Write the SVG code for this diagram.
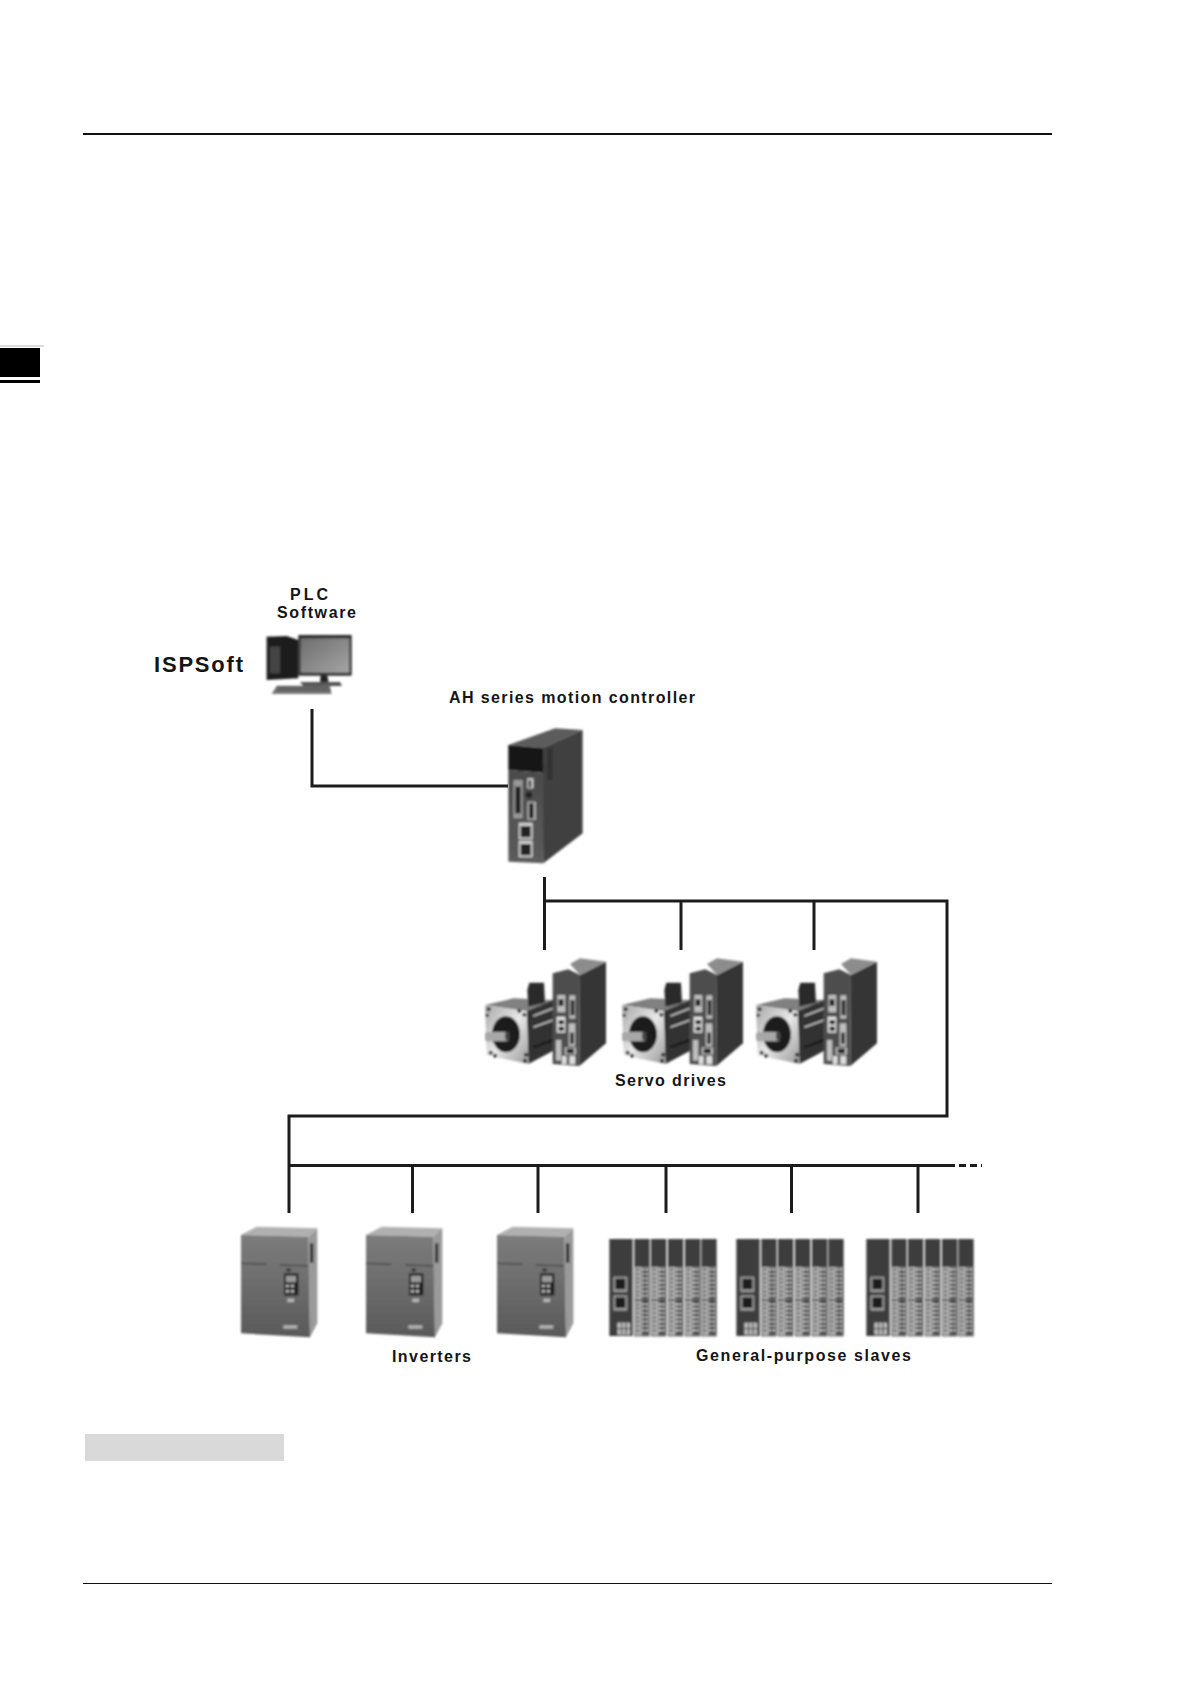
<svg xmlns="http://www.w3.org/2000/svg" xmlns:xlink="http://www.w3.org/1999/xlink" width="1191" height="1684" viewBox="0 0 1191 1684">
<style>
.lb{font-family:"Liberation Sans",Arial,sans-serif;font-weight:700;font-size:16px;fill:#151515}
.w{fill:none;stroke:#1c1c1c;stroke-width:3}
.rule{stroke:#111;fill:none}
</style>
<defs>
<filter id="soft" x="-5%" y="-5%" width="110%" height="110%"><feGaussianBlur stdDeviation="2.4"/></filter>
<linearGradient id="inv" x1="0" y1="0" x2="0" y2="1"><stop offset="0" stop-color="#7c7c7c"/><stop offset=".5" stop-color="#6c6c6c"/><stop offset="1" stop-color="#595959"/></linearGradient>
<linearGradient id="silver" x1="0" y1="0" x2="1" y2="1"><stop offset="0" stop-color="#a8a8a8"/><stop offset=".5" stop-color="#e8e8e8"/><stop offset="1" stop-color="#999"/></linearGradient>
<linearGradient id="ctl" x1="0" y1="0" x2="0" y2="1"><stop offset="0" stop-color="#4a4a4a"/><stop offset="1" stop-color="#5c5c5c"/></linearGradient>
<linearGradient id="scr" x1="0" y1="0" x2="1" y2="1"><stop offset="0" stop-color="#6e6e6e"/><stop offset="1" stop-color="#a4a4a4"/></linearGradient>

<g id="servo" filter="url(#soft)">
<path d="M170 210L250 178V332L175 372Z" fill="#333"/>
<path d="M190 228L250 205M190 262L250 240" stroke="#c4c4c4" stroke-width="5" fill="none"/>
<path d="M190 322L250 300" stroke="#111" stroke-width="6" fill="none"/>
<path d="M45 195L130 175L250 180L170 214Z" fill="#808080"/>
<path d="M172 150L178 128H222L225 188L175 200Z" fill="#2c2c2c"/>
<path d="M45 196L170 214L176 372L50 346Z" fill="url(#silver)"/>
<ellipse cx="108" cy="283" rx="42" ry="54" fill="#1a1a1a"/>
<rect x="45" y="276" width="72" height="28" rx="8" fill="#a8a8a8"/>
<ellipse cx="112" cy="288" rx="7" ry="14" fill="#444"/>
<g fill="#222"><circle cx="56" cy="208" r="6"/><circle cx="148" cy="213" r="6"/><circle cx="52" cy="226" r="5"/><circle cx="163" cy="224" r="6"/><circle cx="62" cy="338" r="6"/><circle cx="75" cy="347" r="6"/><circle cx="168" cy="344" r="6"/><circle cx="165" cy="362" r="6"/></g>
<path d="M330 105L408 65V310L328 378Z" fill="#343434"/>
<path d="M300 72L330 55L408 65L330 105Z" fill="#8c8c8c"/>
<path d="M248 100L295 88L330 105L328 378L248 372Z" fill="#4e4e4e"/>
<g fill="#bdbdbd"><rect x="262" y="165" width="24" height="52"/><rect x="298" y="166" width="18" height="70"/><rect x="260" y="230" width="26" height="48" fill="#e2e2e2"/><rect x="258" y="300" width="16" height="62"/><rect x="296" y="250" width="20" height="68"/><rect x="284" y="322" width="34" height="22"/><rect x="276" y="348" width="14" height="24" fill="#ddd"/><rect x="298" y="348" width="18" height="24" fill="#ddd"/></g>
<g fill="#1c1c1c"><rect x="266" y="240" width="16" height="13"/><rect x="266" y="260" width="16" height="13"/><rect x="266" y="178" width="14" height="20"/><rect x="302" y="180" width="11" height="46"/><rect x="301" y="278" width="10" height="34"/><rect x="290" y="326" width="22" height="14"/></g>
</g>

<g id="inverter" filter="url(#soft)">
<path d="M33 75L80 50L262 55L235 80Z" fill="#b0b0b0"/>
<path d="M235 80L262 55V340L240 382Z" fill="#9a9a9a"/>
<path d="M33 75L235 80L240 382L33 370Z" fill="url(#inv)"/>
<path d="M33 160L110 163M150 165L235 168" stroke="#333" stroke-width="3" fill="none"/>
<rect x="162" y="190" width="43" height="66" fill="#1b1b1b"/>
<rect x="168" y="197" width="30" height="20" fill="#999"/>
<g fill="#bbb"><rect x="167" y="224" width="10" height="8"/><rect x="182" y="224" width="10" height="8"/><rect x="167" y="240" width="10" height="8"/><rect x="182" y="240" width="10" height="8"/></g>
<rect x="170" y="176" width="12" height="8" fill="#222"/>
<rect x="172" y="266" width="20" height="10" fill="#ddd" opacity=".7"/>
<rect x="160" y="346" width="42" height="10" fill="#ccc" opacity=".8"/>
<rect x="240" y="100" width="10" height="58" fill="#333"/>
</g>

<g id="module">
<rect x="0" y="0" width="46" height="292" fill="#3e3e3e"/>
<rect x="3" y="84" width="40" height="205" fill="#b8b8b8"/>
<rect x="22" y="86" width="20" height="201" fill="#1c1c1c"/>
<path d="M27 88V284M37 88V284" stroke="#ddd" stroke-width="6" stroke-dasharray="8 5" fill="none"/>
<path d="M11 88V284" stroke="#666" stroke-width="8" stroke-dasharray="8 5" fill="none"/>
<rect x="3" y="182" width="40" height="4" fill="#444"/>
</g>
<g id="slave" filter="url(#soft)">
<rect x="28" y="57" width="70" height="291" fill="#3c3c3c"/>
<rect x="40" y="170" width="42" height="46" fill="#999"/><rect x="46" y="176" width="30" height="32" fill="#1e1e1e"/>
<rect x="40" y="226" width="42" height="46" fill="#999"/><rect x="46" y="232" width="30" height="32" fill="#1e1e1e"/>
<rect x="52" y="308" width="38" height="36" fill="#bbb"/>
<path d="M65 310V342M78 310V342M52 326H90" stroke="#333" stroke-width="3" fill="none"/>
<use xlink:href="#module" href="#module" x="103" y="57"/>
<use xlink:href="#module" href="#module" x="153" y="57"/>
<use xlink:href="#module" href="#module" x="204" y="57"/>
<use xlink:href="#module" href="#module" x="255" y="57"/>
<use xlink:href="#module" href="#module" x="304" y="57"/>
</g>
</defs>

<rect width="1191" height="1684" fill="#fff"/>

<g id="page">
<path class="rule" stroke-width="2" d="M83 134H1052"/>
<path class="rule" stroke-width="1" d="M83 1583.500H1052"/>
<rect x="0" y="348" width="40" height="29" fill="#000"/>
<rect x="0" y="380" width="40" height="3" fill="#000"/>
<rect x="0" y="345" width="44" height="2" fill="#ddd"/>
<rect x="85" y="1434" width="199" height="27" fill="#d9d9d9"/>
</g>

<g id="connectors">
<path class="w" d="M312 709V786H508"/>
<path class="w" d="M544.500 877V950"/>
<path class="w" d="M544.500 901H947V1116H289V1213"/>
<path class="w" d="M681 901V950M814 901V950"/>
<path class="w" d="M289 1165.500H955"/>
<path class="w" d="M959 1165.500H966M970 1165.500H977M981 1165.500H982"/>
<path class="w" d="M412.500 1165V1213M538 1165V1213M666 1165V1213M791.500 1165V1213M918 1165V1213"/>
</g>

<g id="pc">
<g filter="url(#soft)" transform="translate(130 570) scale(.3333)">
<path d="M410 200L470 198L505 210V325L410 330Z" fill="#1e1e1e"/>
<rect x="420" y="230" width="30" height="80" fill="#444"/>
<rect x="505" y="195" width="160" height="122" fill="#2a2a2a"/>
<path d="M512 205H658V308H512Z" fill="url(#scr)"/>
<path d="M572 316H592L596 338H570Z" fill="#222"/>
<path d="M510 336H630L636 348H520Z" fill="#555"/>
<path d="M440 347H600L605 372H425Z" fill="#777"/>
<path d="M445 352H595M440 360H600" stroke="#222" stroke-width="3" stroke-dasharray="5 2"/>
</g>
<text class="lb" x="290" y="600" textLength="38" lengthAdjust="spacing">PLC</text>
<text class="lb" x="277" y="618" textLength="79" lengthAdjust="spacing">Software</text>
<text class="lb" x="154" y="672" textLength="89" lengthAdjust="spacing" style="font-size:22px">ISPSoft</text>
</g>

<g id="controller">
<g filter="url(#soft)" transform="translate(430 680) scale(.3333)">
<path d="M235 195L375 145L458 150L335 205Z" fill="#5c5c5c"/>
<path d="M335 205L458 150V460L340 550Z" fill="#3f3f3f"/>
<path d="M235 195L338 205L340 278L235 270Z" fill="#161616"/>
<path d="M235 270L340 278V550L235 545Z" fill="url(#ctl)"/>
<rect x="352" y="205" width="16" height="95" fill="#333"/>
<rect x="250" y="300" width="28" height="115" fill="#999"/>
<rect x="256" y="320" width="16" height="80" fill="#222"/>
<rect x="292" y="295" width="18" height="30" fill="#ddd"/>
<rect x="296" y="300" width="8" height="22" fill="#222"/>
<circle cx="297" cy="345" r="10" fill="#222"/>
<rect x="292" y="365" width="26" height="55" fill="#aaa"/>
<rect x="298" y="370" width="12" height="45" fill="#111"/>
<rect x="266" y="428" width="42" height="50" fill="#ccc"/><rect x="272" y="438" width="30" height="34" fill="#222"/>
<rect x="266" y="482" width="42" height="50" fill="#ccc"/><rect x="272" y="492" width="30" height="34" fill="#222"/>
</g>
<text class="lb" x="449" y="703" textLength="246" lengthAdjust="spacing">AH series motion controller</text>
</g>

<g id="servo-drives">
<use xlink:href="#servo" href="#servo" transform="translate(470 940) scale(.3333)"/>
<use xlink:href="#servo" href="#servo" transform="translate(607 940) scale(.3333)"/>
<use xlink:href="#servo" href="#servo" transform="translate(741 940) scale(.3333)"/>
<text class="lb" x="615" y="1086" textLength="111" lengthAdjust="spacing">Servo drives</text>
</g>

<g id="inverters">
<use xlink:href="#inverter" href="#inverter" transform="translate(230 1210) scale(.3333)"/>
<use xlink:href="#inverter" href="#inverter" transform="translate(355 1210) scale(.3333)"/>
<use xlink:href="#inverter" href="#inverter" transform="translate(486 1210) scale(.3333)"/>
<text class="lb" x="392" y="1362" textLength="79" lengthAdjust="spacing">Inverters</text>
</g>

<g id="slaves">
<use xlink:href="#slave" href="#slave" transform="translate(600 1220) scale(.3333)"/>
<use xlink:href="#slave" href="#slave" transform="translate(727 1220) scale(.3333)"/>
<use xlink:href="#slave" href="#slave" transform="translate(857 1220) scale(.3333)"/>
<text class="lb" x="696" y="1361" textLength="215" lengthAdjust="spacing">General-purpose slaves</text>
</g>
</svg>
